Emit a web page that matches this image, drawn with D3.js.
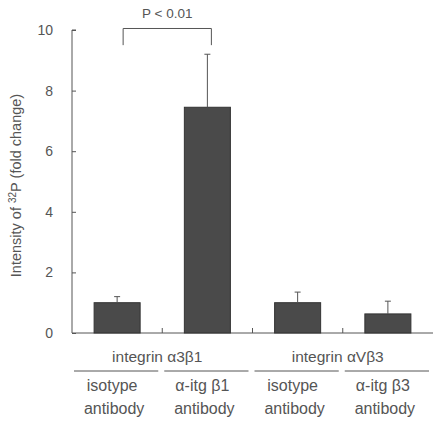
<!DOCTYPE html>
<html>
<head>
<meta charset="utf-8">
<script src="https://cdn.jsdelivr.net/npm/d3@7"></script>
<style>
  body { margin: 0; background: #fff; }
  text { font-family: "Liberation Sans", Arial, sans-serif; fill: #555; }
</style>
</head>
<body>
<div id="chart"></div>
<script>
const categories = ["iso1", "itgb1", "iso3", "itgb3"];
const values = [1.0, 7.45, 1.0, 0.63];
const errors = [0.2, 1.75, 0.35, 0.42];
const yTicks = [0, 2, 4, 6, 8, 10];
const groupLabels = ["integrin \u03b13\u03b21", "integrin \u03b1V\u03b23"];
const subLabels = [["isotype", "antibody"], ["\u03b1-itg \u03b21", "antibody"],
                   ["isotype", "antibody"], ["\u03b1-itg \u03b23", "antibody"]];
const pLabel = "P < 0.01";

const width = 433, height = 427;
const margin = { top: 30, right: 0, bottom: 94, left: 72 };
const ink = "#555";

const svg = d3.select("#chart").append("svg")
    .attr("width", width).attr("height", height);

const x = d3.scaleBand()
    .domain(categories)
    .range([margin.left, width - margin.right])
    .paddingInner(0.49).paddingOuter(0.245);

const y = d3.scaleLinear()
    .domain([0, 10])
    .range([height - margin.bottom, margin.top]);

const cx = d => x(d) + x.bandwidth() / 2;
const step = x.step();

// y axis
const yAxis = svg.append("g")
    .attr("transform", `translate(${margin.left},0)`)
    .call(d3.axisRight(y).tickValues(yTicks).tickSize(4).tickFormat(""));
yAxis.select(".domain").attr("stroke", ink).attr("d", `M4,${y(10)}H0V${y(0)}`);
yAxis.selectAll(".tick line").attr("stroke", ink);

svg.selectAll(".ylab")
    .data(yTicks).enter().append("text")
    .attr("x", margin.left - 19)
    .attr("y", d => y(d) + 5)
    .attr("text-anchor", "end")
    .style("font-size", "14px")
    .text(d => d);

// x axis line + separators
svg.append("line")
    .attr("x1", margin.left).attr("x2", width - margin.right)
    .attr("y1", y(0)).attr("y2", y(0))
    .attr("stroke", ink);
svg.selectAll(".sep")
    .data(categories.slice(1)).enter().append("line")
    .attr("x1", d => x(d) - (step - x.bandwidth()) / 2)
    .attr("x2", d => x(d) - (step - x.bandwidth()) / 2)
    .attr("y1", y(0)).attr("y2", y(0) - 5)
    .attr("stroke", ink);

// bars
svg.selectAll(".bar")
    .data(categories).enter().append("rect")
    .attr("x", d => x(d))
    .attr("y", (d, i) => y(values[i]))
    .attr("width", x.bandwidth())
    .attr("height", (d, i) => y(0) - y(values[i]))
    .attr("fill", "#4a4a4a")
    .attr("stroke", "#333");

// error bars
svg.selectAll(".err")
    .data(categories).enter().append("path")
    .attr("d", (d, i) => {
        const top = y(values[i] + errors[i]);
        return `M${cx(d)},${y(values[i])}V${top}M${cx(d) - 3},${top}H${cx(d) + 3}`;
    })
    .attr("stroke", "#555").attr("fill", "none");

// significance bracket
const bx1 = cx(categories[0]) + 6, bx2 = cx(categories[1]) + 4;
svg.append("path")
    .attr("d", `M${bx1},${y(9.5)}V${y(10.05)}H${bx2}V${y(9.5)}`)
    .attr("stroke", ink).attr("fill", "none");
svg.append("text")
    .attr("x", (bx1 + bx2) / 2).attr("y", 18)
    .attr("text-anchor", "middle")
    .style("font-size", "13.5px")
    .text(pLabel);

// y title
const yt = svg.append("text")
    .attr("transform", `translate(21,${(y(0) + y(10)) / 2 + 4}) rotate(-90)`)
    .attr("text-anchor", "middle")
    .style("font-size", "14.5px");
yt.append("tspan").text("Intensity of ");
yt.append("tspan").attr("dy", -5).style("font-size", "10px").text("32");
yt.append("tspan").attr("dy", 5).text("P (fold change)");

// group labels
const baseY = y(0);
svg.selectAll(".grp")
    .data(groupLabels).enter().append("text")
    .attr("x", (d, i) => (cx(categories[2 * i]) + cx(categories[2 * i + 1])) / 2 - 5)
    .attr("y", baseY + 29)
    .attr("text-anchor", "middle")
    .style("font-size", "15.5px")
    .text(d => d);

svg.selectAll(".uline")
    .data(categories).enter().append("line")
    .attr("x1", d => x(d) - (step - x.bandwidth()) / 2 + 2)
    .attr("x2", d => Math.min(width, x(d) + x.bandwidth() + (step - x.bandwidth()) / 2 - 4))
    .attr("y1", baseY + 38).attr("y2", baseY + 38)
    .attr("stroke", ink);

const sub = svg.selectAll(".sub")
    .data(categories).enter().append("text")
    .attr("text-anchor", "middle")
    .style("font-size", "16px");
sub.append("tspan")
    .attr("x", d => cx(d) - 5).attr("y", baseY + 58)
    .text((d, i) => subLabels[i][0]);
sub.append("tspan")
    .attr("x", d => cx(d) - 3).attr("y", baseY + 81)
    .text((d, i) => subLabels[i][1]);
</script>
</body>
</html>
